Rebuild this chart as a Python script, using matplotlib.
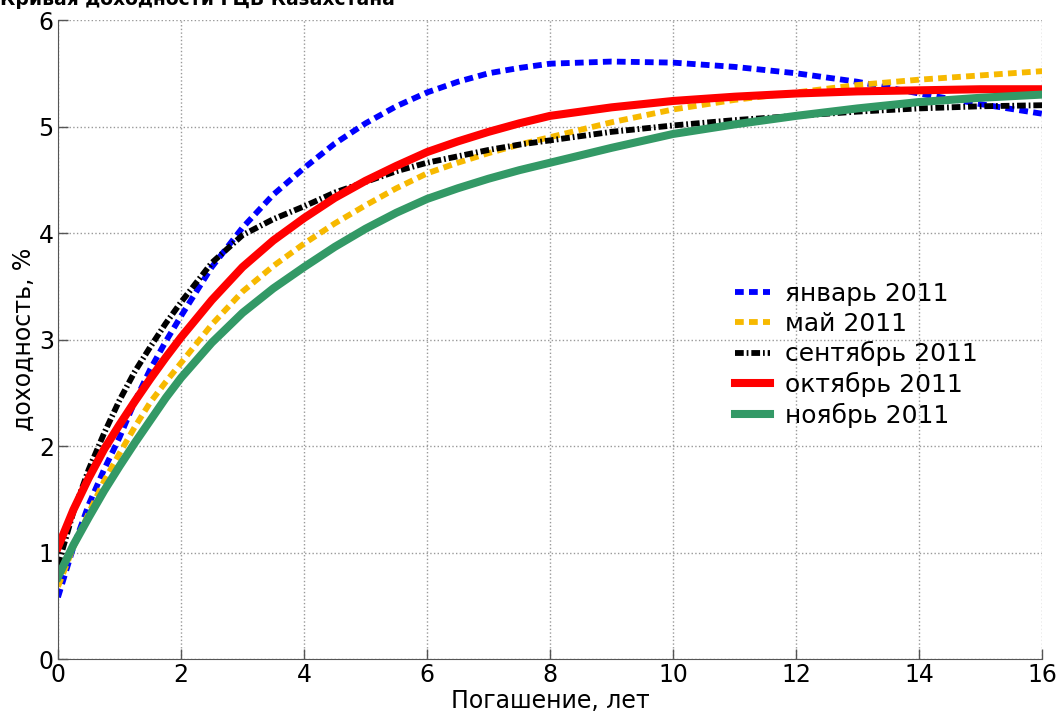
import matplotlib
matplotlib.use("Agg")
import matplotlib.pyplot as plt

# срок погашения, лет
maturity = [0, 0.25, 0.5, 0.75, 1, 1.25, 1.5, 1.75, 2, 2.5, 3, 3.5, 4, 4.5, 5, 5.5,
            6, 6.5, 7, 7.5, 8, 9, 10, 11, 12, 13, 14, 15, 16]

jan_2011 = [0.58, 1.05, 1.45, 1.78, 2.08, 2.42, 2.72, 2.98, 3.22, 3.68, 4.05, 4.36,
            4.61, 4.84, 5.03, 5.19, 5.32, 5.42, 5.50, 5.55, 5.59, 5.61, 5.60, 5.56,
            5.50, 5.42, 5.31, 5.21, 5.12]
may_2011 = [0.68, 1.05, 1.37, 1.67, 1.93, 2.18, 2.41, 2.60, 2.78, 3.14, 3.45, 3.69,
            3.90, 4.09, 4.26, 4.42, 4.56, 4.66, 4.75, 4.83, 4.90, 5.04, 5.16, 5.25,
            5.32, 5.39, 5.44, 5.48, 5.52]
sep_2011 = [0.88, 1.38, 1.78, 2.12, 2.43, 2.70, 2.93, 3.15, 3.35, 3.72, 3.98, 4.13,
            4.25, 4.38, 4.48, 4.58, 4.66, 4.72, 4.78, 4.83, 4.87, 4.95, 5.01, 5.06,
            5.10, 5.14, 5.17, 5.19, 5.20]
oct_2011 = [1.05, 1.40, 1.70, 1.97, 2.20, 2.42, 2.63, 2.83, 3.02, 3.37, 3.68, 3.93,
            4.14, 4.33, 4.49, 4.63, 4.76, 4.86, 4.95, 5.03, 5.10, 5.18, 5.24, 5.28,
            5.31, 5.33, 5.34, 5.35, 5.35]
nov_2011 = [0.77, 1.07, 1.33, 1.58, 1.81, 2.03, 2.24, 2.45, 2.64, 2.97, 3.25, 3.48,
            3.68, 3.87, 4.04, 4.19, 4.32, 4.42, 4.51, 4.59, 4.66, 4.80, 4.93, 5.02,
            5.10, 5.17, 5.23, 5.27, 5.30]

labels = ["январь 2011", "май 2011", "сентябрь 2011", "октябрь 2011", "ноябрь 2011"]
x_ticks = [0, 2, 4, 6, 8, 10, 12, 14, 16]
y_ticks = [0, 1, 2, 3, 4, 5, 6]

plt.rcParams['font.family'] = ['DejaVu Sans']

fig = plt.figure(figsize=(10.58, 7.15), dpi=100)
ax = fig.add_axes([0.0548, 0.0783, 0.9302, 0.8937])

ax.plot(maturity, jan_2011, color="#0000ff", lw=4.2, dashes=(1.5, 0.9),
        dash_capstyle="butt", label=labels[0])
ax.plot(maturity, may_2011, color="#f7b900", lw=4.2, dashes=(1.5, 0.9),
        dash_capstyle="butt", label=labels[1])
ax.plot(maturity, sep_2011, color="black", lw=4.2, dashes=(1.5, 0.5, 0.3, 0.5),
        dash_capstyle="butt", label=labels[2])
ax.plot(maturity, oct_2011, color="#ff0000", lw=5.8, label=labels[3])
ax.plot(maturity, nov_2011, color="#339966", lw=5.8, label=labels[4])

ax.set_xlim(0, 16)
ax.set_ylim(0, 6)
ax.set_xticks(x_ticks)
ax.set_yticks(y_ticks)
ax.tick_params(direction="in", length=7, width=1, colors="#555555",
               labelcolor="black", labelsize=17, pad=3)
ax.grid(True, linestyle=":", color="#999999", lw=1)

for side in ["top", "right"]:
    ax.spines[side].set_visible(False)
for side in ["left", "bottom"]:
    ax.spines[side].set_color("#555555")

ax.set_xlabel("Погашение, лет", fontsize=17, labelpad=1)
ax.set_ylabel("доходность, %", fontsize=17, labelpad=2)

ax.legend(loc="upper left", bbox_to_anchor=(0.665, 0.625), frameon=False,
          fontsize=18, handlelength=1.4, labelspacing=0.22, handletextpad=0.6)

fig.text(0.0, 1 - 5 / 715, "Кривая доходности ГЦБ Казахстана", fontsize=13.5,
         fontweight="bold", ha="left", va="baseline")

fig.savefig("out.png", dpi=100)
